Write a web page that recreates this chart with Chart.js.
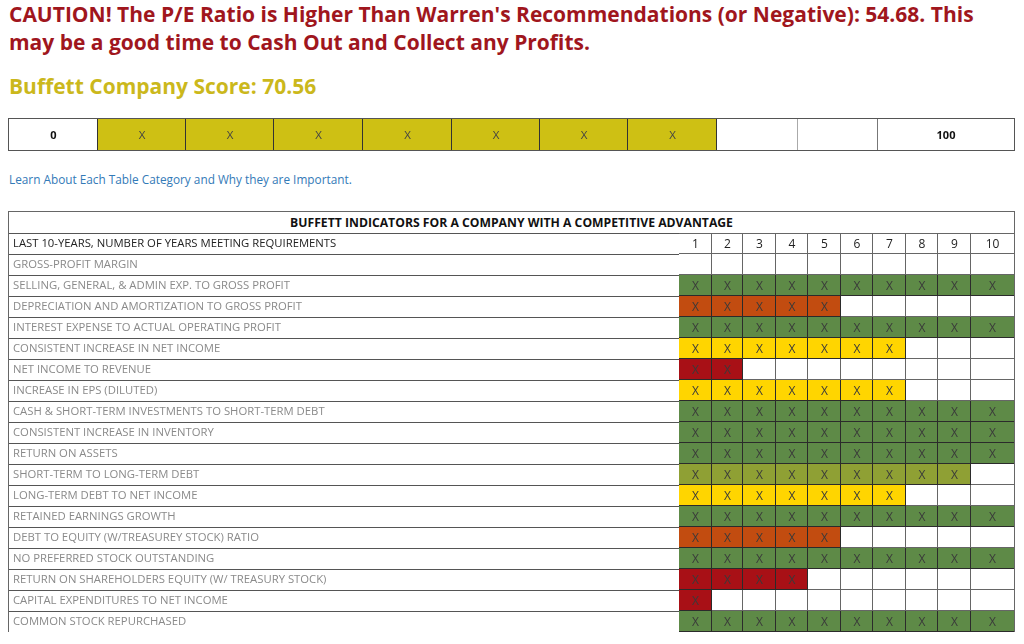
<!DOCTYPE html>
<html>
<head>
<meta charset="utf-8">
<script src="https://cdn.jsdelivr.net/npm/chart.js@4.4.1/dist/chart.umd.min.js"></script>
<style>
html,body{margin:0;padding:0;background:#fff;width:1024px;height:644px;overflow:hidden;font-family:"Open Sans",sans-serif;}
#caution{position:absolute;left:9px;top:0px;width:1010px;font-size:21px;font-weight:700;line-height:28px;color:#a0161d;white-space:nowrap;}
#score{position:absolute;left:9px;top:72px;font-size:21px;font-weight:700;color:#cbb81c;}
#scoreWrap{position:absolute;left:8px;top:118px;width:1005px;height:31px;border:1px solid #555;}
#learn{position:absolute;left:9px;top:171px;font-size:11.8px;color:#337ab7;}
#tableWrap{position:absolute;left:8px;top:211px;width:1005px;border:1px solid #666;border-bottom:none;}
#tableTitle{height:21px;line-height:21px;text-align:center;font-size:12.2px;font-weight:700;color:#111;}
canvas{display:block;}
</style>
</head>
<body>
<div id="caution"></div>
<div id="score"></div>
<div id="scoreWrap"><canvas id="scoreChart" width="1005" height="31"></canvas></div>
<div id="learn">Learn About Each Table Category and Why they are Important.</div>
<div id="tableWrap">
  <div id="tableTitle">BUFFETT INDICATORS FOR A COMPANY WITH A COMPETITIVE ADVANTAGE</div>
  <canvas id="gridChart" width="1005" height="399"></canvas>
</div>
<script>
// ---- data ----
const peRatio = 54.68;
const companyScore = 70.56;
const scoreLabels = ["0","10","20","30","40","50","60","70","80","90","100"];
const years = ["1","2","3","4","5","6","7","8","9","10"];
const headerLabel = "LAST 10-YEARS, NUMBER OF YEARS MEETING REQUIREMENTS";
const indicators = [
  "GROSS-PROFIT MARGIN",
  "SELLING, GENERAL, & ADMIN EXP. TO GROSS PROFIT",
  "DEPRECIATION AND AMORTIZATION TO GROSS PROFIT",
  "INTEREST EXPENSE TO ACTUAL OPERATING PROFIT",
  "CONSISTENT INCREASE IN NET INCOME",
  "NET INCOME TO REVENUE",
  "INCREASE IN EPS (DILUTED)",
  "CASH & SHORT-TERM INVESTMENTS TO SHORT-TERM DEBT",
  "CONSISTENT INCREASE IN INVENTORY",
  "RETURN ON ASSETS",
  "SHORT-TERM TO LONG-TERM DEBT",
  "LONG-TERM DEBT TO NET INCOME",
  "RETAINED EARNINGS GROWTH",
  "DEBT TO EQUITY (W/TREASUREY STOCK) RATIO",
  "NO PREFERRED STOCK OUTSTANDING",
  "RETURN ON SHAREHOLDERS EQUITY (W/ TREASURY STOCK)",
  "CAPITAL EXPENDITURES TO NET INCOME",
  "COMMON STOCK REPURCHASED"
];
const yearsMet = [0,10,5,10,7,2,7,10,10,10,9,7,10,5,10,4,1,10];
const grades = ["none","top","low","top","mid","bad","mid","top","top","top","good","mid","top","low","top","bad","bad","top"];

// ---- styles / layout ----
const GRADE_COLORS = {none:"#ffffff",top:"#5e8a47",good:"#8fa034",mid:"#ffd500",low:"#c24c10",bad:"#a81016"};
const SCORE_FILL = "#cec014";
// table column widths in px (like an html table's auto layout)
const SCORE_COL_PX = [89,88,88,89,89,88,88,89,81,80,136];
const YEAR_COL_PX = [33,31,33,32,33,32,33,32,33,43];
const LABEL_COL = 670;
const FONT = "'Open Sans', sans-serif";
const sum = a => a.reduce((s, v) => s + v, 0);

document.getElementById("caution").innerHTML =
  `CAUTION! The P/E Ratio is Higher Than Warren's Recommendations (or Negative): ${peRatio.toFixed(2)}. This<br>may be a good time to Cash Out and Collect any Profits.`;
document.getElementById("score").textContent = `Buffett Company Score: ${companyScore.toFixed(2)}`;

Chart.defaults.font.family = FONT;

const cellText = {
  id: "cellText",
  afterDatasetsDraw(chart) {
    const ctx = chart.ctx;
    chart.data.datasets.forEach((ds, di) => {
      chart.getDatasetMeta(di).data.forEach((bar, i) => {
        const t = ds.cellText && ds.cellText[i];
        if (!t) return;
        const {x, y, base} = bar.getProps(["x","y","base"], true);
        ctx.save();
        ctx.font = (ds.cellFont && ds.cellFont[i]) || `12px ${FONT}`;
        ctx.fillStyle = (ds.cellColor && ds.cellColor[i]) || "#333";
        ctx.textAlign = "center";
        ctx.textBaseline = "middle";
        ctx.fillText(t, (x + base) / 2, y + 1);
        ctx.restore();
      });
    });
  }
};

// ---- score bar ----
const filledCells = Math.floor(companyScore / 10);
const scoreDatasets = scoreLabels.map((lab, i) => {
  const last = i === scoreLabels.length - 1;
  const edge = i === 0 || last;
  const filled = !edge && i <= filledCells;
  return {
    label: lab,
    data: [SCORE_COL_PX[i]],
    backgroundColor: filled ? SCORE_FILL : "#ffffff",
    borderColor: (filled || i === 0) ? "#333" : (i === scoreLabels.length - 2 ? "#777" : "#aaa"),
    borderWidth: last ? 0 : {top:0,left:0,bottom:0,right:1},
    borderSkipped: false,
    inflateAmount: 0,
    barPercentage: 1, categoryPercentage: 1,
    cellText: [edge ? lab : (filled ? "X" : "")],
    cellFont: [edge ? `bold 11px ${FONT}` : `11.5px ${FONT}`],
    cellColor: [edge ? "#111" : "#444"]
  };
});
new Chart(document.getElementById("scoreChart"), {
  type: "bar",
  data: {labels: ["score"], datasets: scoreDatasets},
  options: {
    indexAxis: "y", responsive: false, animation: false,
    layout: {padding: 0},
    plugins: {legend: {display: false}, tooltip: {enabled: false}},
    scales: {
      x: {type: "linear", stacked: true, display: false, min: 0, max: sum(SCORE_COL_PX)},
      y: {stacked: true, display: false}
    }
  },
  plugins: [cellText]
});

// ---- indicator grid ----
const rowLabels = [headerLabel, ...indicators];
const lastYear = years.length - 1;
const gridDatasets = years.map((yr, j) => ({
  label: yr,
  data: rowLabels.map(() => YEAR_COL_PX[j]),
  backgroundColor: rowLabels.map((_, r) => r > 0 && yearsMet[r-1] > j ? GRADE_COLORS[grades[r-1]] : "#ffffff"),
  borderColor: rowLabels.map((_, r) => r > 0 && yearsMet[r-1] > j ? "#2b2b2b" : "#666"),
  borderWidth: rowLabels.map((_, r) => ({top: r === 0 ? 1 : 0, left: 0, bottom: 1, right: j === lastYear ? 0 : 1})),
  borderSkipped: false,
  inflateAmount: 0,
  barPercentage: 1, categoryPercentage: 1,
  cellText: rowLabels.map((_, r) => r === 0 ? yr : (yearsMet[r-1] > j ? "X" : "")),
  cellFont: rowLabels.map(() => `12px ${FONT}`),
  cellColor: rowLabels.map((_, r) => r === 0 ? "#222" : "#3a3a3a")
}));
new Chart(document.getElementById("gridChart"), {
  type: "bar",
  data: {labels: rowLabels, datasets: gridDatasets},
  options: {
    indexAxis: "y", responsive: false, animation: false,
    layout: {padding: {left: 4, top: 0, right: 0, bottom: 0}},
    plugins: {legend: {display: false}, tooltip: {enabled: false}},
    scales: {
      x: {type: "linear", stacked: true, display: false, min: 0, max: sum(YEAR_COL_PX)},
      y: {
        stacked: true,
        afterFit(scale) { scale.width = LABEL_COL - 4; scale.paddingTop = 0; scale.paddingBottom = 0; },
        grid: {offset: true, drawOnChartArea: false, tickLength: LABEL_COL, color: "#555", lineWidth: 1},
        border: {display: true, color: "#444", width: 1},
        ticks: {
          autoSkip: false, crossAlign: "far", padding: 0,
          color: ctx => ctx.index === 0 ? "#222" : "#8a8a8a",
          font: {family: FONT, size: 11.3, lineHeight: "0px"}
        }
      }
    }
  },
  plugins: [cellText]
});
</script>
</body>
</html>
